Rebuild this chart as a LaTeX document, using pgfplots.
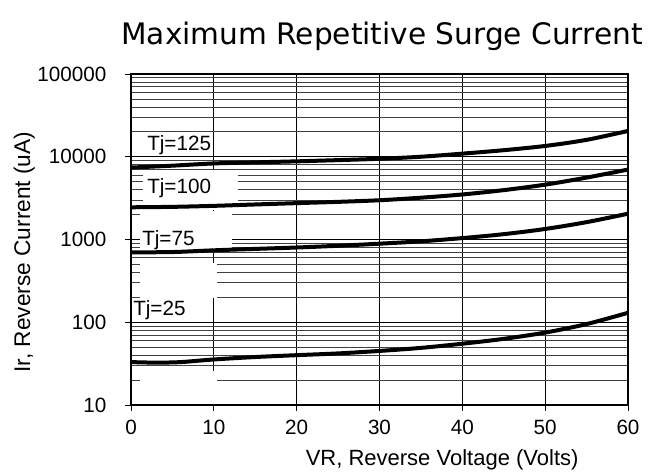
\documentclass[border=0pt]{standalone}
\usepackage{fontspec}
\setmainfont{Liberation Sans}
\newfontfamily\titlefont{DejaVu Sans}
\usepackage{pgfplots}
\pgfplotsset{compat=1.18}

\begin{document}
\begin{tikzpicture}
\useasboundingbox (-98.25pt,-51pt) rectangle (394.5pt,303.75pt);
\begin{axis}[
  at={(0,0)}, anchor=south west,
  scale only axis, width=372.75pt, height=248.25pt,
  ymode=log, log basis y=10,
  xmin=0, xmax=60, ymin=10, ymax=100000,
  xtick={0,10,20,30,40,50,60},
  xticklabels={0,10,20,30,40,50,60},
  ytick={10,100,1000,10000,100000},
  yticklabels={10,100,1000,10000,100000},
  minor ytick={20,30,40,50,60,70,80,90,200,300,400,500,600,700,800,900,
    2000,3000,4000,5000,6000,7000,8000,9000,
    20000,30000,40000,50000,60000,70000,80000,90000},
  xmajorgrids, ymajorgrids, yminorgrids,
  major grid style={black, line width=0.6pt},
  minor grid style={black!75, line width=0.6pt},
  tick align=outside, major tick length=4.5pt, minor tick length=0pt,
  every tick/.style={black, line width=0.6pt},
  xtick pos=bottom, ytick pos=left,
  axis line style={line width=1.6pt},
  font=\fontsize{15.5}{18}\selectfont,
  yticklabel style={xshift=-10.5pt},
  xticklabel style={yshift=-3.5pt},
  title={Maximum Repetitive Surge Current},
  title style={font=\titlefont\fontsize{22.2}{26}\selectfont,
    at={(0.505,1)}, anchor=center, yshift=22.5pt},
  xlabel={VR, Reverse Voltage (Volts)},
  xlabel style={at={(axis description cs:0.626,-0.165)}, anchor=center,
    font=\fontsize{16.5}{19}\selectfont},
  ylabel={Ir, Reverse Current (uA)},
  ylabel style={at={(axis description cs:-0.215,0.462)}, anchor=center,
    font=\fontsize{17}{20}\selectfont},
]

% white boxes behind the curve labels
\fill[white] (axis cs:1.45,6900) rectangle (axis cs:12.9,2300);
\fill[white] (axis cs:1.1,2210) rectangle (axis cs:12.2,720);
\fill[white] (axis cs:1.1,520) rectangle (axis cs:10.4,196);
\fill[white] (axis cs:1.1,26) rectangle (axis cs:10.4,10.3);

% Tj=125
\addplot[black, line width=3pt, smooth] coordinates {
  (0,7400) (5,7800) (10,8300) (15,8550) (20,8800) (25,9100) (30,9450)
  (35,10000) (40,10900) (45,12000) (50,13500) (55,16000) (60,20500)};
% Tj=100
\addplot[black, line width=3pt, smooth] coordinates {
  (0,2450) (5,2480) (10,2550) (15,2650) (20,2750) (25,2850) (30,2980)
  (35,3200) (40,3500) (45,3950) (50,4600) (55,5600) (60,7000)};
% Tj=75
\addplot[black, line width=3pt, smooth] coordinates {
  (0,700) (5,705) (10,740) (15,770) (20,800) (25,840) (30,890)
  (35,950) (40,1040) (45,1160) (50,1340) (55,1620) (60,2050)};
% Tj=25
\addplot[black, line width=3pt, smooth] coordinates {
  (0,33) (3,32.5) (6,33) (10,35.5) (15,38) (20,40) (25,42) (30,45)
  (35,49) (40,55) (45,63) (50,75) (55,95) (60,130)};

\node[anchor=west, inner sep=0pt] at (axis cs:1.93,13870) {Tj=125};
\node[anchor=west, inner sep=0pt] at (axis cs:1.93,4190) {Tj=100};
\node[anchor=west, inner sep=0pt] at (axis cs:1.33,986) {Tj=75};
\node[anchor=west, inner sep=0pt] at (axis cs:0.24,140) {Tj=25};
\end{axis}
\end{tikzpicture}
\end{document}
